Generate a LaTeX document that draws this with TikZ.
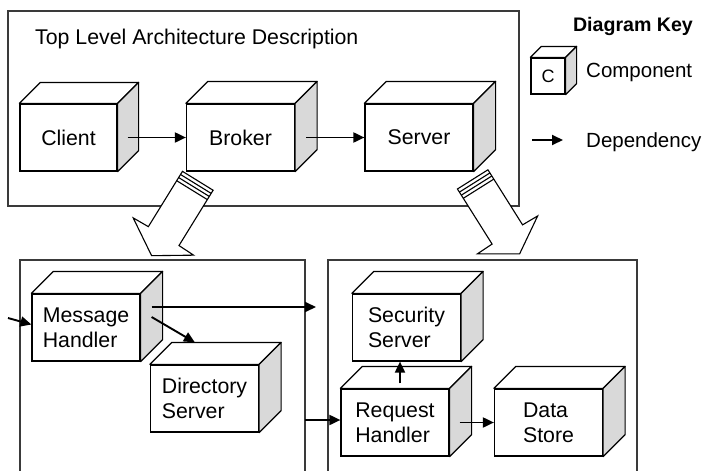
\documentclass[tikz,border=0pt]{standalone}
\usepackage{fontspec}
\setmainfont{Liberation Sans}
\usetikzlibrary{arrows.meta,calc}
\definecolor{sidegray}{HTML}{D9D9D9}
\definecolor{framegray}{HTML}{3A3A3A}
\newcommand\compfaces[2]{%
  \draw[cubeline, fill=white] (#1.north west) -- ([shift={(#2pt,#2pt)}]#1.north west) -- ([shift={(#2pt,#2pt)}]#1.north east) -- (#1.north east) -- cycle;
  \draw[cubeline, fill=sidegray] (#1.north east) -- ([shift={(#2pt,#2pt)}]#1.north east) -- ([shift={(#2pt,#2pt)}]#1.south east) -- (#1.south east) -- cycle;
}
\begin{document}
\begin{tikzpicture}[x=1pt,y=-1pt,
  comp/.style={draw, line width=1.2pt, fill=white, inner sep=0pt, minimum width=108pt, minimum height=67pt, align=left, font=\fontsize{21.3}{25}\selectfont},
  cubeline/.style={line width=1.2pt, line join=round},
  frame/.style={draw=framegray, line width=1.3pt},
  dep/.style={line width=1.9pt, -{Triangle[length=11pt,width=10pt]}},
  bigarrow/.style={draw, line width=1.1pt, fill=white, line join=miter},
  lbl/.style={inner sep=0pt, font=\fontsize{21.3}{25}\selectfont},
  keylbl/.style={inner sep=0pt, font=\fontsize{20.5}{24}\selectfont}]
\useasboundingbox (0,0) rectangle (707,471);

% frames
\draw[frame] (8,11) rectangle (519,206);
\draw[frame] (20,471) -- (20,260) -- (305,260) -- (305,471);
\draw[frame] (328,471) -- (328,260) -- (637,260) -- (637,471);

\node[lbl, anchor=base west] (title) at (35,44) {Top Level Architecture Description};

% top level components
\node[comp, minimum width=97pt] (client) at (68.5,137.5) {Client};
\compfaces{client}{21}
\node[comp] (broker) at (240.5,137.5) {Broker};
\compfaces{broker}{22}
\node[comp] (server) at (419,137.5) {Server};
\compfaces{server}{22}

\draw[dep] ([xshift=10pt]client.east) -- (broker.west);
\draw[dep] ([xshift=11pt]broker.east) -- (server.west);

% big refinement arrows
\begin{scope}[shift={(176.7,180.7)}, x={(-0.525pt,-0.851pt)}, y={(0.851pt,-0.525pt)}]
  \draw[bigarrow] (-11,0) -- (-11,36) -- (54,36) -- (54.5,53.5) -- (77,18) -- (54.5,-17.5) -- (54,0) -- cycle;
  \foreach \u in {-7.3,-3.7,0} \draw[line width=1.1pt] (\u,0) -- (\u,36);
\end{scope}
\begin{scope}[shift={(463.3,198.3)}, x={(0.533pt,-0.847pt)}, y={(0.847pt,0.533pt)}]
  \draw[bigarrow] (-11,0) -- (-11,36) -- (54,36) -- (54.5,53.5) -- (77,18) -- (54.5,-17.5) -- (54,0) -- cycle;
  \foreach \u in {-7.3,-3.7,0} \draw[line width=1.1pt] (\u,0) -- (\u,36);
\end{scope}

% lower left
\node[comp] (mh) at (86,327.5) {Message\\Handler};
\compfaces{mh}{22}
\node[comp] (dir) at (204.5,398.5) {Directory\\Server};
\compfaces{dir}{22}

% lower right
\node[comp] (ss) at (406.5,327.5) {Security\\Server};
\compfaces{ss}{22}
\node[comp] (rh) at (395,422.5) {Request\\Handler};
\compfaces{rh}{22}
\node[comp] (ds) at (548.5,422.5) {Data\\Store};
\compfaces{ds}{22}

\coordinate (inL) at (8,318);
\coordinate (mhToR) at (316,307);
\coordinate (lfR) at (305,420);
\draw[dep] (inL) -- ([yshift=3pt]mh.west);
\draw[dep] ([shift={(11pt,20.5pt)}]mh.east) -- (mhToR);
\draw[dep] ([shift={(11pt,10.5pt)}]mh.east) -- ([shift={(45pt,22pt)}]dir.north west);
\draw[dep] (lfR) -- (lfR -| rh.west);
\draw[dep] ([shift={(5pt,5pt)}]rh.north) coordinate (rhup) -- (rhup |- ss.south);
\draw[dep] ([xshift=10pt]rh.east) -- (ds.west);

% key
\node[inner sep=0pt, anchor=base, font=\bfseries\fontsize{19.6}{23}\selectfont] (keyt) at (633,31) {Diagram Key};
\node[comp, minimum width=34pt, minimum height=36pt, font=\fontsize{18}{22}\selectfont] (keyc) at (548,76) {C};
\compfaces{keyc}{11}
\node[keylbl, anchor=base west] (keycomp) at (586,77) {Component};
\coordinate (k1) at (532,140);
\coordinate (k2) at (563,140);
\draw[dep] (k1) -- (k2);
\node[keylbl, anchor=base west] (keydep) at (586,147) {Dependency};
\end{tikzpicture}
\end{document}
